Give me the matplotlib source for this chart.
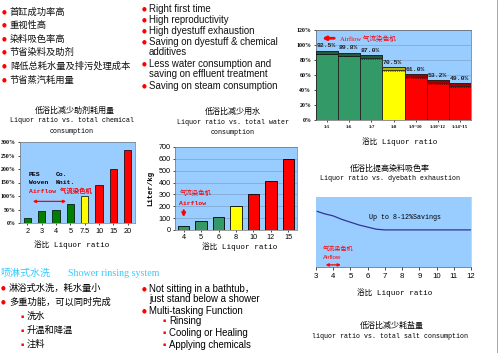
import matplotlib
matplotlib.use("Agg")
import matplotlib.pyplot as plt

plt.rcParams['font.family'] = ['Liberation Sans', 'Noto Sans CJK SC', 'DejaVu Sans']

W, H = 500, 353
MONO = ['Liberation Mono', 'Noto Sans CJK SC', 'DejaVu Sans']
CJK = ['Noto Sans CJK SC', 'DejaVu Sans']
BLUE_BG = '#99CCFF'
GREEN = '#339966'
DGREEN = '#008000'
YELLOW = '#FFFF00'
RED = '#FF0000'

# ---- data ----
exh_labels = ['1:5', '1:6', '1:7', '1:8', '1:9~10', '1:10~12', '1:14~15']
exh_values = [92.5, 89.8, 87.0, 70.5, 61.0, 53.2, 49.0]
exh_kind = ['g', 'g', 'g', 'y', 'r', 'r', 'r']

chem_ratio = ['2', '3', '4', '5', '7.5', '10', '15', '20']
chem_values = [20, 45, 50, 72, 100, 140, 200, 270]
chem_kind = ['g', 'g', 'g', 'g', 'y', 'r', 'r', 'r']

water_ratio = ['4', '5', '6', '8', '10', '12', '15']
water_values = [35, 75, 108, 205, 300, 410, 600]
water_kind = ['g', 'g', 'g', 'y', 'r', 'r', 'r']

salt_x = [3, 3.5, 4, 4.5, 5, 5.5, 6, 6.5, 7, 8, 9, 10, 11, 12]
salt_y = [80, 76, 73, 68, 64, 60, 57, 54, 53, 53, 53, 53, 53, 53]

cn_points = ['首缸成功率高', '重视性高', '染料吸色率高', '节省染料及助剂',
             '降低总耗水量及排污处理成本', '节省蒸汽耗用量']
en_points = ['Right first time', 'High reproductivity', 'High dyestuff exhaustion',
             'Saving on dyestuff & chemical\nadditives',
             'Less water consumption and\nsaving on effluent treatment',
             'Saving on steam consumption']

fig = plt.figure(figsize=(W / 100, H / 100), dpi=100)
fig.patch.set_facecolor('white')


def ax_px(l, t, r, b):
    return fig.add_axes([l / W, 1 - b / H, (r - l) / W, (b - t) / H])


def txt(x, y, s, **kw):
    kw.setdefault('va', 'center')
    return fig.text(x / W, 1 - y / H, s, **kw)


def bullet(x, y, sq=False):
    txt(x, y, '▪' if sq else '●', color=RED, fontsize=3.5 if sq else 4,
        ha='center', family=['DejaVu Sans'])


# ---- text blocks ----
cn_y = [12, 25, 39, 52, 66, 80]
for s, y in zip(cn_points, cn_y):
    bullet(4, y)
    txt(10, y, s, fontsize=6.7, family=CJK, color='#111111')

en_y = [9, 20, 31, 42, 64, 86]
for s, y in zip(en_points, en_y):
    bullet(144, y)
    txt(149, y + (5 if '\n' in s else 0), s, fontsize=6.9, color='#111111',
        linespacing=1.05)

txt(0, 273, '喷淋式水洗', fontsize=7.2, family=CJK, color='#33CCFF')
txt(68, 273, 'Shower rinsing system', fontsize=7.2, family=['Liberation Serif'],
    color='#33CCFF')
bullet(3, 288)
txt(9, 288, '淋浴式水洗，耗水量小', fontsize=6.7, family=CJK)
bullet(3, 302)
txt(9, 302, '多重功能，可以同时完成', fontsize=6.7, family=CJK)
for s, y in zip(['洗水', '升温和降温', '注料'], [316, 330, 344]):
    bullet(22, y, sq=True)
    txt(27, y, s, fontsize=6.7, family=CJK)

bullet(144, 289)
txt(149, 294, 'Not sitting in a bathtub，\njust stand below a shower', fontsize=6.9,
    linespacing=1.0, family=['Liberation Sans', 'Noto Sans CJK SC'])
bullet(144, 311)
txt(149, 311, 'Multi-tasking Function', fontsize=6.9)
for s, y in zip(['Rinsing', 'Cooling or Healing', 'Applying chemicals'], [321, 333, 345]):
    bullet(164, y, sq=True)
    txt(169, y, s, fontsize=6.9)

# titles of charts
txt(75, 110, '低浴比减少助剂耗用量', fontsize=5.8, family=CJK, ha='center')
txt(72, 121, 'Liquor ratio vs. total chemical', fontsize=4.8, family=MONO, ha='center')
txt(72, 132, 'consumption', fontsize=4.8, family=MONO, ha='center')
txt(233, 111, '低浴比减少用水', fontsize=5.8, family=CJK, ha='center')
txt(233, 122, 'Liquor ratio vs. total water', fontsize=4.8, family=MONO, ha='center')
txt(233, 133, 'consumption', fontsize=4.8, family=MONO, ha='center')
txt(400, 142, '浴比 Liquor ratio', fontsize=5.5, family=MONO, ha='center')
txt(390, 168, '低浴比提高染料吸色率', fontsize=5.8, family=CJK, ha='center')
txt(390, 179, 'Liquor ratio vs. dyebath exhaustion', fontsize=4.8, family=MONO, ha='center')
txt(392, 325, '低浴比减少耗盐量', fontsize=5.8, family=CJK, ha='center')
txt(390, 336, 'liquor ratio vs. total salt consumption', fontsize=4.8, family=MONO,
    ha='center')

fig.add_artist(plt.Line2D([497 / W, 497 / W], [0, 1], color='#999999', lw=0.6))

cmap_g = {'g': GREEN, 'y': YELLOW, 'r': RED}
cap = {'g': '#1E5E3E', 'y': '#B5B500', 'r': '#A00000'}

# ---- exhaustion chart (top right) ----
ax = ax_px(316, 30, 471, 120)
ax.set_facecolor(BLUE_BG)
xs = range(len(exh_values))
ax.bar(xs, exh_values, width=1.0, color=[cmap_g[k] for k in exh_kind],
       edgecolor='#222222', linewidth=0.6, zorder=3)
ax.bar(xs, [4] * len(xs), bottom=[v - 4 for v in exh_values], width=1.0,
       color=[cap[k] for k in exh_kind], edgecolor='#222222', linewidth=0.6, zorder=4)
for i, v in enumerate(exh_values):
    ax.plot([i - 0.5, i + 0.5], [v - 5, v - 5], color='black', lw=0.5, ls=':', zorder=5)
    ax.text(i - 0.47, v + 3, f'{v:.1f}%', fontsize=4.6, family=MONO, fontweight='bold',
            ha='left', va='bottom', color='#222222', zorder=6)
ax.set_xlim(-0.5, 6.5)
ax.set_ylim(0, 120)
ax.set_yticks(range(0, 121, 20))
ax.set_yticklabels([f'{t}%' for t in range(0, 121, 20)], fontsize=4.2,
                   family=['Liberation Serif'], fontweight='bold')
ax.set_xticks(list(xs))
ax.set_xticklabels(exh_labels, fontsize=3.4, family=['Liberation Serif'], fontweight='bold')
ax.tick_params(length=1.5, width=0.5, pad=2)
ax.grid(axis='y', color='#7799BB', lw=0.4, zorder=1)
for s in ax.spines.values():
    s.set_linewidth(0.5)
    s.set_color('#666666')
ax.annotate('', xy=(-0.35, 109), xytext=(0.45, 109),
            arrowprops=dict(arrowstyle='-|>', color=RED, lw=2, mutation_scale=5), zorder=7)
ax.text(0.6, 109, 'Airflow 气流染色机', fontsize=4.8, color=RED, va='center',
        family=['Liberation Serif', 'Noto Sans CJK SC'], zorder=7)

# ---- chemical chart ----
ax = ax_px(20, 142, 135, 223)
ax.set_facecolor(BLUE_BG)
xs = range(len(chem_values))
chem_col = {'g': DGREEN, 'y': YELLOW, 'r': RED}
ax.bar(xs, chem_values, width=0.5, color=[chem_col[k] for k in chem_kind],
       edgecolor='black', linewidth=0.5, zorder=3)
ax.set_xlim(-0.5, 7.5)
ax.set_ylim(0, 300)
ax.set_yticks(range(0, 301, 50))
ax.set_yticklabels([f'{t}%' for t in range(0, 301, 50)], fontsize=4.2,
                   family=['Liberation Serif'], fontweight='bold')
ax.set_xticks(list(xs))
ax.set_xticklabels(chem_ratio, fontsize=5.3)
ax.tick_params(length=1.5, width=0.5, pad=2)
for s in ax.spines.values():
    s.set_linewidth(0.5)
    s.set_color('#777777')
ax.text(0.1, 180, 'PES', fontsize=4.6, family=MONO, fontweight='bold', va='center')
ax.text(2.0, 180, 'Co.', fontsize=4.6, family=MONO, fontweight='bold', va='center')
ax.text(0.1, 150, 'Woven', fontsize=4.6, family=MONO, fontweight='bold', va='center')
ax.text(2.0, 150, 'Knit.', fontsize=4.6, family=MONO, fontweight='bold', va='center')
ax.text(0.1, 118, 'Airflow 气流染色机', fontsize=4.6, family=MONO, fontweight='bold',
        color=RED, va='center')
ax.annotate('', xy=(0.2, 80), xytext=(2.9, 80),
            arrowprops=dict(arrowstyle='<|-|>', color=RED, lw=0.9, mutation_scale=4))
txt(72, 245, '浴比 Liquor ratio', fontsize=5.5, family=MONO, ha='center')

# ---- water chart ----
ax = ax_px(175, 147, 297, 230)
ax.set_facecolor(BLUE_BG)
xs = range(len(water_values))
ax.bar(xs, water_values, width=0.65, color=[cmap_g[k] for k in water_kind],
       edgecolor='black', linewidth=0.6, zorder=3)
ax.set_xlim(-0.5, 6.5)
ax.set_ylim(0, 700)
ax.set_yticks(range(0, 701, 100))
ax.set_yticklabels([str(t) for t in range(0, 701, 100)], fontsize=5.2)
ax.set_xticks(list(xs))
ax.set_xticklabels(water_ratio, fontsize=5.2)
ax.tick_params(length=1.5, width=0.5, pad=1.5)
ax.grid(axis='y', color='#7799BB', lw=0.4, zorder=1)
for s in ax.spines.values():
    s.set_linewidth(0.5)
    s.set_color('#777777')
ax.set_ylabel('Liter/kg', fontsize=5.3, family=MONO, fontweight='bold', labelpad=3)
ax.text(-0.25, 310, '气流染色机', fontsize=4.6, family=CJK, color=RED, va='center')
ax.text(-0.25, 220, 'Airflow', fontsize=4.6, family=MONO, fontweight='bold',
        color=RED, va='center')
ax.annotate('', xy=(0.0, 85), xytext=(0.0, 190),
            arrowprops=dict(arrowstyle='-|>', color=RED, lw=1.5, mutation_scale=5))
txt(240, 247, '浴比 Liquor ratio', fontsize=5.5, family=MONO, ha='center')

# ---- salt chart ----
ax = ax_px(316, 197, 471, 267)
ax.set_facecolor(BLUE_BG)
ax.plot(salt_x, salt_y, color='#333399', lw=0.9)
ax.set_xlim(3, 12)
ax.set_ylim(0, 100)
ax.set_yticks([])
ax.set_xticks(range(3, 13))
ax.tick_params(axis='x', labelsize=5.6, length=2.5, width=0.5, pad=2)
for k, s in ax.spines.items():
    s.set_linewidth(0.5)
    s.set_color('#555555' if k == 'bottom' else BLUE_BG)
ax.text(6.1, 71, 'Up to 8-12%Savings', fontsize=4.8, family=MONO, va='center')
ax.text(3.4, 26, '气流染色机', fontsize=4.4, family=CJK, color=RED, va='center')
ax.text(3.4, 14, 'Airflow', fontsize=4.4, color=RED, va='center')
ax.annotate('', xy=(3.4, 3), xytext=(4.6, 3),
            arrowprops=dict(arrowstyle='<|-|>', color=RED, lw=0.9, mutation_scale=4))
txt(395, 293, '浴比 Liquor ratio', fontsize=5.5, family=MONO, ha='center')

fig.savefig('out.png', dpi=100, facecolor='white')
